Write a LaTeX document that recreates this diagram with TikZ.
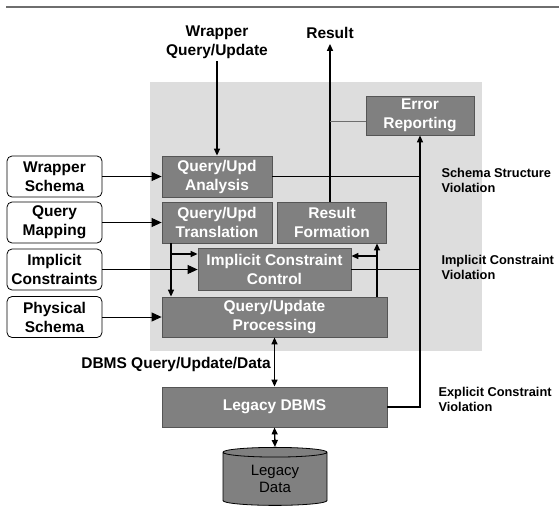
\documentclass[tikz,border=0pt]{standalone}
\usepackage{fontspec}
\setmainfont{Liberation Sans}
\usetikzlibrary{arrows.meta,shapes.geometric}
\definecolor{boxgray}{HTML}{808080}
\definecolor{boxedge}{HTML}{555555}
\definecolor{panelgray}{HTML}{DDDDDD}
\definecolor{rulegray}{HTML}{6E6E6E}
\tikzset{%
  every module/.style={
    rectangle,
    draw=boxedge,
    fill=boxgray,
    text=white,
    font=\fontsize{15.5}{19}\selectfont\bfseries,
    align=center,
    inner sep=0pt,
    line width=0.8pt
  },
  every source/.style={
    rectangle,
    rounded corners=5pt,
    draw,
    fill=white,
    font=\fontsize{15.5}{19}\selectfont\bfseries,
    align=center,
    inner sep=0pt,
    line width=0.8pt,
    minimum width=95pt,
    minimum height=41pt
  },
  violation/.style={
    font=\fontsize{12.8}{15}\selectfont\bfseries,
    align=left,
    anchor=west
  },
  flow/.style={line width=1.4pt, -{Triangle[length=7pt,width=6pt]}},
  feed/.style={line width=0.9pt, -{Triangle[length=10pt,width=9pt]}},
  report/.style={line width=0.9pt},
}
\begin{document}
\begin{tikzpicture}[x=1pt, y=-1pt]
\useasboundingbox (0,0) rectangle (559,509);

\draw[rulegray, line width=2pt] (6,6.5) -- (559,6.5);
\fill[panelgray] (150,82) rectangle (482,351);

% Wrapper modules
\node [every module/.try, minimum width=110pt, minimum height=41pt] (ana) at (217,176.5) {Query/Upd\\Analysis};
\node [every module/.try, minimum width=110pt, minimum height=41pt] (tra) at (217,222.5) {Query/Upd\\Translation};
\node [every module/.try, minimum width=109pt, minimum height=41pt] (res) at (332,222.5) {Result\\Formation};
\node [every module/.try, minimum width=153pt, minimum height=42pt] (ctl) at (274.5,269) {Implicit Constraint\\Control};
\node [every module/.try, minimum width=225pt, minimum height=40pt] (pro) at (274.5,317) {Query/Update\\Processing};
\node [every module/.try, minimum width=108pt, minimum height=39pt] (err) at (420,115.5) {Error\\Reporting};
\node [every module/.try, minimum width=225pt, minimum height=40pt] (dbms) at (274.5,407) {Legacy DBMS};
\node [cylinder, shape border rotate=90, aspect=0.2, draw, fill=boxgray, line width=0.8pt,
  minimum width=104pt, minimum height=58pt, inner sep=0pt, align=center,
  font=\fontsize{15}{16.5}\selectfont] (data) at (275,479) {Legacy\\Data};

% Sources
\foreach \n/\l/\y in {wsch/Wrapper\\Schema/176.5, qmap/Query\\Mapping/222.5,
  icon/Implicit\\Constraints/269.5, psch/Physical\\Schema/317}
  \node [every source/.try] (\n) at (54.5,\y) {\l};

% Outside labels
\node [font=\fontsize{15.5}{19}\selectfont\bfseries, align=center, inner sep=2pt] (wq) at (217,42.5) {Wrapper\\Query/Update};
\node [font=\fontsize{15.5}{19}\selectfont\bfseries, inner sep=2pt] (rst) at (330,33) {Result};
\node [font=\fontsize{15.5}{19}\selectfont\bfseries, anchor=east, inner sep=0pt] (dql) at (271,364) {DBMS Query/Update/Data};
\node [violation] (ssv) at (438,180.5) {Schema Structure\\Violation};
\node [violation] (icv) at (438,267.5) {Implicit Constraint\\Violation};
\node [violation] (ecv) at (435,399) {Explicit Constraint\\Violation};

\coordinate (tap) at (330,121);
\coordinate (split) at (171,254);
\coordinate (merge) at (377,256);

% Arrows
\draw [flow] (wq.south) -- (ana.north);
\draw [flow, shorten >=3pt] (res.north -| rst) -- (rst.south);
\draw [rulegray, line width=1pt] (tap) -- (tap -| err.west);

\foreach \s/\t in {wsch/ana, qmap/tra, icon/ctl, psch/pro}
  \draw [feed] (\s.east) -- (\s.east -| \t.west);

\draw [flow] (tra.south -| split) -- (pro.north -| split);
\draw [flow] (split) -- (split -| ctl.west);
\draw [flow] (pro.north -| merge) -- (res.south -| merge);
\draw [flow] (merge) -- (merge -| ctl.east);

\draw [report] (ana.east) -- (ana.east -| err.south);
\draw [report] (ctl.east) -- (ctl.east -| err.south);
\draw [report, line width=1.2pt, -{Triangle[length=7pt,width=6pt]}] (dbms.east) -- (dbms.east -| err.south) -- (err.south);

\draw [flow, {Triangle[length=7pt,width=6pt]}-{Triangle[length=7pt,width=6pt]}] (pro.south) -- (dbms.north);
\draw [flow, {Triangle[length=7pt,width=6pt]}-{Triangle[length=7pt,width=6pt]}] (dbms.south) -- (data.north);

\end{tikzpicture}
\end{document}
